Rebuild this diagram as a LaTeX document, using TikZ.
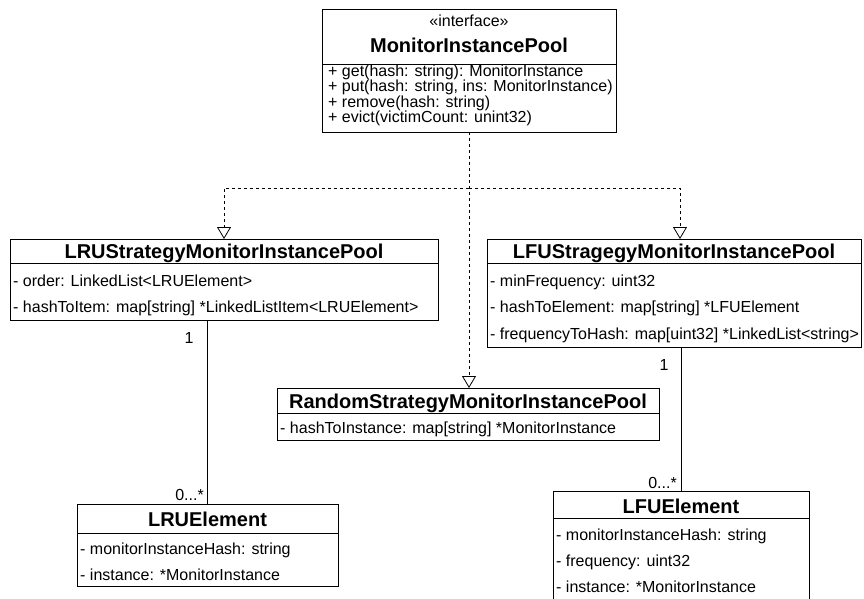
\documentclass[tikz,border=0pt]{standalone}
\usepackage{fontspec}
\setmainfont{Liberation Sans}
\usetikzlibrary{arrows.meta}
\begin{document}
\begin{tikzpicture}[x=1pt,y=-1pt,
  box/.style={draw, line width=1pt, fill=white, inner sep=0pt, outer sep=0pt, anchor=north west},
  ttl/.style={font=\fontsize{20}{24}\selectfont\bfseries, inner sep=0pt, anchor=base},
  stereo/.style={font=\fontsize{16}{19}\selectfont, inner sep=0pt, anchor=base},
  attr/.style={font=\fontsize{16}{19}\selectfont, inner sep=0pt, anchor=base west},
  lbl/.style={font=\fontsize{16}{19}\selectfont, inner sep=0pt},
  divider/.style={line width=1pt},
  dep/.style={draw, line width=0.8pt, dash pattern=on 3pt off 3pt, -{Triangle[open, width=14pt, length=12pt, line width=0.8pt]}},
  assoc/.style={draw, line width=0.8pt}
]
\useasboundingbox (0,0) rectangle (864,599);
\clip (0,0) rectangle (864,599);

% interface
\node[box, minimum width=294pt, minimum height=122pt] (iface) at (322,10) {};
\draw[divider] (322,65) -- (616,65);
\node[stereo] (iface-s) at (469,27) {«interface»};
\node[ttl] (iface-t) at (469,53) {MonitorInstancePool};
\node[attr] (iface-a1) at (328,77) {+ get(hash: string): MonitorInstance};
\node[attr] (iface-a2) at (328,92) {+ put(hash: string, ins: MonitorInstance)};
\node[attr] (iface-a3) at (328,107) {+ remove(hash: string)};
\node[attr] (iface-a4) at (328,122) {+ evict(victimCount: unint32)};

% LRU
\node[box, minimum width=428pt, minimum height=81pt] (lru) at (10,239) {};
\draw[divider] (10,263) -- (438,263);
\node[ttl] (lru-t) at (224,258) {LRUStrategyMonitorInstancePool};
\node[attr] (lru-a1) at (13,286) {- order: LinkedList<LRUElement>};
\node[attr] (lru-a2) at (13,312) {- hashToItem: map[string] *LinkedListItem<LRUElement>};

% LFU
\node[box, minimum width=374pt, minimum height=108pt] (lfu) at (487,239) {};
\draw[divider] (487,263) -- (861,263);
\node[ttl] (lfu-t) at (674,258) {LFUStragegyMonitorInstancePool};
\node[attr] (lfu-a1) at (490,286) {- minFrequency: uint32};
\node[attr] (lfu-a2) at (490,312) {- hashToElement: map[string] *LFUElement};
\node[attr] (lfu-a3) at (490,339) {- frequencyToHash: map[uint32] *LinkedList<string>};

% Random
\node[box, minimum width=382pt, minimum height=52pt] (rnd) at (277,388) {};
\draw[divider] (277,413) -- (659,413);
\node[ttl] (rnd-t) at (468,408) {RandomStrategyMonitorInstancePool};
\node[attr] (rnd-a1) at (280,433) {- hashToInstance: map[string] *MonitorInstance};

% LRUElement
\node[box, minimum width=261pt, minimum height=82pt] (lruel) at (77,504) {};
\draw[divider] (77,533) -- (338,533);
\node[ttl] (lruel-t) at (207.5,526) {LRUElement};
\node[attr] (lruel-a1) at (80,554) {- monitorInstanceHash: string};
\node[attr] (lruel-a2) at (80,580) {- instance: *MonitorInstance};

% LFUElement
\node[box, minimum width=256pt, minimum height=120pt] (lfuel) at (553,491) {};
\draw[divider] (553,518) -- (809,518);
\node[ttl] (lfuel-t) at (681,513) {LFUElement};
\node[attr] (lfuel-a1) at (556,540) {- monitorInstanceHash: string};
\node[attr] (lfuel-a2) at (556,566) {- frequency: uint32};
\node[attr] (lfuel-a3) at (556,592) {- instance: *MonitorInstance};

% realizations
\coordinate (jn) at (469,188);
\draw[dep] (iface.south) -- (iface.south |- rnd.north);
\draw[dep] (jn) -| (lru.north);
\draw[dep] (jn) -| ([xshift=6pt]lfu.north);

% associations
\draw[assoc] (lruel.north) -- (lruel.north |- lru.south);
\draw[assoc] (lfuel.north) -- (lfuel.north |- lfu.south);
\node[lbl, anchor=base] (m1) at (189,343) {1};
\node[lbl, anchor=base east] (m2) at (204,500) {0...*};
\node[lbl, anchor=base] (m3) at (664,370) {1};
\node[lbl, anchor=base east] (m4) at (677,488) {0...*};
\end{tikzpicture}
\end{document}
